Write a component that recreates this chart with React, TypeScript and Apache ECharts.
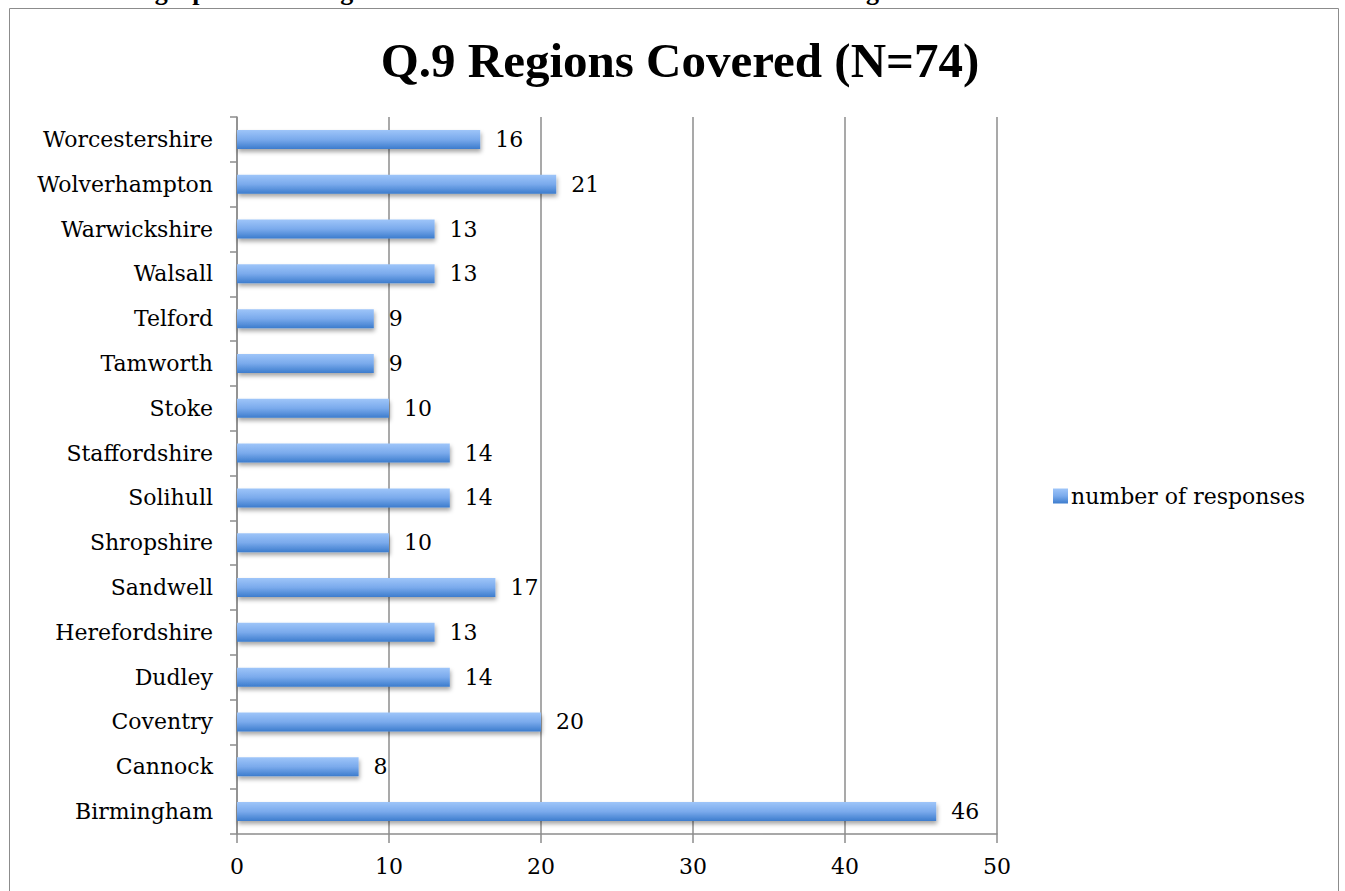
import React, { useEffect, useRef } from "react";
import * as echarts from "echarts";

const categories = [
  "Birmingham",
  "Cannock",
  "Coventry",
  "Dudley",
  "Herefordshire",
  "Sandwell",
  "Shropshire",
  "Solihull",
  "Staffordshire",
  "Stoke",
  "Tamworth",
  "Telford",
  "Walsall",
  "Warwickshire",
  "Wolverhampton",
  "Worcestershire",
];
const responses = [46, 8, 20, 14, 13, 17, 10, 14, 14, 10, 9, 9, 13, 13, 21, 16];
const seriesName = "number of responses";
const titleText = "Q.9 Regions Covered (N=74)";
const headingNumber = "3.";
const headingText = "Geographical coverage of arts activities across the West Midlands region";

const FONT = "DejaVu Serif";
const TITLE_FONT = "Liberation Serif";

export default function App() {
  const ref = useRef<HTMLDivElement>(null);
  useEffect(() => {
    const chart = echarts.init(ref.current!, null, { renderer: "svg" });
    const barGrad = new echarts.graphic.LinearGradient(0, 0, 0, 1, [
      { offset: 0, color: "#9ec5f9" },
      { offset: 0.5, color: "#7aaaec" },
      { offset: 1, color: "#3c7ccd" },
    ]);
    chart.setOption({
      animation: false,
      backgroundColor: "#ffffff",
      textStyle: { fontFamily: FONT, color: "#000" },
      graphic: [
        {
          type: "rect",
          shape: { x: 9.5, y: 8.5, width: 1329, height: 900 },
          style: { fill: "none", stroke: "#8c8c8c", lineWidth: 1 },
          silent: true,
        },
        {
          type: "text",
          x: 57,
          y: -9,
          style: {
            text: headingNumber,
            font: "bold 26px 'Liberation Serif'",
            fill: "#000",
            textVerticalAlign: "middle",
          },
          silent: true,
        },
        {
          type: "text",
          x: 110,
          y: -9,
          style: {
            text: headingText,
            font: "bold 26px 'Liberation Serif'",
            fill: "#000",
            textVerticalAlign: "middle",
          },
          silent: true,
        },
      ],
      title: {
        text: titleText,
        left: 675,
        top: 31,
        textAlign: "center",
        textStyle: { fontFamily: TITLE_FONT, fontWeight: "bold", fontSize: 49, color: "#000" },
      },
      legend: {
        left: 1048,
        top: 480,
        itemWidth: 15,
        itemHeight: 15,
        itemGap: 6,
        icon: "rect",
        textStyle: { fontFamily: FONT, fontSize: 22, color: "#000", padding: [0, 0, 0, -2] },
        data: [seriesName],
      },
      grid: { left: 237, top: 117, width: 760, height: 717, containLabel: false },
      xAxis: {
        type: "value",
        min: 0,
        max: 50,
        interval: 10,
        axisLine: { show: true, lineStyle: { color: "#8c8c8c", width: 1.5 } },
        axisTick: { show: true, length: 9, lineStyle: { color: "#8c8c8c", width: 1.5 } },
        axisLabel: { fontFamily: FONT, fontSize: 22, color: "#000", margin: 21 },
        splitLine: { show: true, lineStyle: { color: "#8c8c8c", width: 1.5 } },
      },
      yAxis: {
        type: "category",
        data: categories,
        axisLine: { show: true, lineStyle: { color: "#8c8c8c", width: 1.5 } },
        axisTick: { show: true, length: 7, lineStyle: { color: "#8c8c8c", width: 1.5 } },
        axisLabel: { fontFamily: FONT, fontSize: 22, color: "#000", margin: 24 },
        splitLine: { show: false },
      },
      series: [
        {
          name: seriesName,
          type: "bar",
          data: responses,
          barWidth: 19,
          itemStyle: {
            color: barGrad,
            shadowColor: "rgba(0,0,0,0.35)",
            shadowBlur: 4,
            shadowOffsetY: 3,
            shadowOffsetX: 1,
          },
          label: {
            show: true,
            position: "right",
            distance: 15,
            fontFamily: FONT,
            fontSize: 22,
            color: "#000",
          },
        },
      ],
    });
    return () => chart.dispose();
  }, []);
  return (
    <div
      ref={ref}
      style={{ position: "fixed", left: 0, top: 0, width: 1345, height: 891 }}
    />
  );
}
